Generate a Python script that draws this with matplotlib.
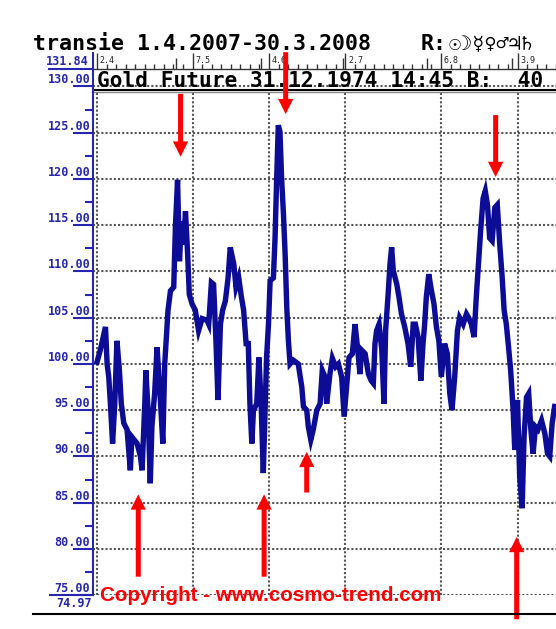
import numpy as np
import matplotlib
matplotlib.use("Agg")
import matplotlib.pyplot as plt
import matplotlib.transforms as mtransforms
from matplotlib.lines import Line2D

# gold future, days counted from 2.4.2007
days = [0, 1.2, 3.1, 3.7, 4.3, 4.9, 5.7, 6.5, 7.3, 8.2, 8.9, 9.8, 11.0, 12.2, 12.8,
        14.7, 15.9, 16.5, 17.5, 17.9, 18.7, 19.5, 20.1, 21.1, 22.0, 23.2, 24.1, 24.8,
        25.3, 26.0, 26.9, 28.1, 28.7, 29.5, 30.2, 30.9, 31.7, 32.4, 33.2, 33.8, 34.8,
        36.0, 37.2, 38.5, 40.3, 40.9, 41.9, 42.7, 43.6, 44.3, 45.2, 46.0, 47.0, 48.0,
        48.8, 50.1, 50.9, 51.9, 52.9, 53.7, 54.6,
        55.4, 56.0, 56.7, 57.3, 58.5, 59.3, 60.1, 60.9, 61.5, 62.1, 62.8, 63.4, 64.6,
        65.2, 65.8, 66.4, 67.0, 67.6, 68.3, 68.9, 69.5, 70.1, 70.7, 71.9, 73.7, 75.0,
        75.6, 76.8, 77.4, 78.3, 79.2, 80.5, 81.7, 82.5, 83.5, 84.1, 85.3, 86.2, 87.4,
        88.4, 89.6, 90.5, 91.5, 92.3, 93.5, 94.5, 95.5, 96.3, 96.9, 98.2, 99.4, 100.4,
        101.2, 101.8, 102.4, 103.3, 104.3, 105.1, 105.7, 106.7, 107.3, 107.9, 108.5,
        109.8, 110.6,
        111.5, 112.7, 113.9, 114.9, 115.8, 116.6, 117.6, 118.6, 119.4, 120.0, 120.6,
        121.5, 122.5, 123.4, 124.3, 125.2, 126.1, 127.3, 128.3, 129.2, 130.0, 131.0,
        132.0, 132.8, 134.1, 135.3, 136.1, 137.1, 138.1, 138.9, 139.6, 140.5, 141.4,
        142.2, 143.0, 143.8, 144.7, 145.7, 146.6, 147.5, 148.4, 149.1, 149.9, 150.6,
        151.5, 152.4, 153.0, 154.0, 154.8, 155.7, 156.4, 157.3, 158.1, 158.9, 159.7,
        160.6, 161.5, 162.8, 164.0, 165.0, 165.8, 166.7, 167.6]
price = [100.2, 101.5, 104.0, 100.0, 98.6, 95.7, 91.4, 95.7, 102.5, 99.3, 95.7, 93.6,
         92.9, 88.5, 92.1, 91.4, 90.0, 88.5, 95.7, 99.3, 95.0, 87.1, 93.2, 96.8, 101.8,
         96.1, 91.4, 100.0, 102.5, 105.8, 107.9, 108.3, 114.7, 119.9, 111.1, 115.4,
         112.9, 116.5, 111.8, 107.5, 106.5, 105.8, 103.6, 104.9, 104.7, 104.3, 108.8,
         108.6, 102.2, 96.1, 104.3, 105.8, 106.8, 109.3, 112.6, 110.8, 108.3, 109.3,
         107.2, 105.8, 102.2,
         102.2, 95.7, 91.4, 95.0, 95.7, 100.7, 95.7, 88.2, 94.3, 100.7, 104.3, 109.0,
         109.3, 113.6, 120.1, 125.8, 125.1, 120.1, 116.1, 111.8, 106.1, 102.5, 100.0,
         100.4, 100.0, 97.5, 95.4, 95.0, 93.2, 91.8, 92.9, 95.0, 95.7, 99.3, 98.6, 95.7,
         98.9, 100.6, 99.7, 100.0, 98.6, 94.3, 97.9, 100.7, 101.1, 104.3, 101.5, 98.9,
         101.5, 101.1, 98.9, 98.2, 97.9, 102.2, 103.6, 104.3, 101.5, 95.7, 103.6, 107.9,
         110.8, 112.6, 110.1, 108.6, 107.2,
         105.4, 104.0, 102.2, 99.7, 104.3, 104.3, 102.9, 98.2, 102.2, 104.3, 107.2,
         109.7, 107.9, 106.5, 104.0, 102.5, 98.6, 102.2, 101.1, 96.8, 95.0, 98.6, 103.6,
         105.0, 104.3, 105.4, 105.0, 104.3, 102.9, 107.2, 110.4, 114.4, 117.9, 118.7,
         117.2, 113.6, 113.3, 116.9, 117.2, 112.9, 109.3, 105.8, 104.3, 102.2, 99.3,
         95.0, 90.7, 96.1, 87.8, 84.4, 92.1, 96.4, 96.8, 92.9, 90.3, 93.2, 92.9, 93.9,
         92.5, 90.3, 90.0, 93.6, 95.4]

# top ruler: first monday of each month, month starts
label_days = [0, 35, 63, 91, 126, 154]
label_text = ["2.4", "7.5", "4.6", "2.7", "6.8", "3.9"]
month_days = [29, 60, 90, 121, 152]
y_ticks = list(range(75, 131, 5))
y_bottom, y_top = 74.97, 131.84

# turning point arrows (x, tail, tip)
arrows_down = [(30.6, 129.2, 122.4), (69.1, 133.7, 127.0), (146.0, 126.9, 120.2)]
arrows_up = [(15.1, 77.0, 85.9), (61.2, 77.0, 85.9), (76.8, 86.1, 90.5), (153.7, 72.4, 81.3)]

blue = "#2626b0"
line_blue = "#0c0c96"
grid_col = "#555555"
mono = ["DejaVu Sans Mono", "DejaVu Sans"]

fig = plt.figure(figsize=(5.56, 6.29), dpi=100)
ax = fig.add_axes([93.3 / 556, 0.0533, 1 - 93.3 / 556, 0.8364])
ax.set_xlim(-1.36, 168.1)
ax.set_ylim(y_bottom, y_top)

# spines
for s in ["bottom", "right"]:
    ax.spines[s].set_visible(False)
ax.spines["left"].set_color(blue)
ax.spines["left"].set_linewidth(1.5)
ax.spines["top"].set_color("#333333")
ax.spines["top"].set_linewidth(1.0)

# y axis ticks (labels sit on top of the long ticks)
ax.set_yticks(y_ticks)
ax.set_yticklabels(["%.2f" % v for v in y_ticks])
ax.set_yticks(np.arange(77.5, 130, 5), minor=True)
ax.tick_params(axis="y", which="major", direction="out", length=14.4, width=1.5,
               color=blue, labelcolor=blue, pad=-12.2, labelsize=8.5)
ax.tick_params(axis="y", which="minor", direction="out", length=5.8, width=1.5, color=blue)
for lbl in ax.get_yticklabels():
    lbl.set_verticalalignment("bottom")
    lbl.set_fontfamily(mono)
    lbl.set_fontweight("bold")

# x axis = ruler on top
ax.xaxis.set_ticks_position("top")
ax.set_xticks(label_days)
ax.set_xticklabels([])
ax.set_xticks(np.arange(0, 169, 3.5), minor=True)
ax.tick_params(axis="x", which="major", direction="out", length=11.8, width=1, color="#333333")
ax.tick_params(axis="x", which="minor", direction="out", length=3.6, width=1, color="#333333")
ax.vlines(month_days, y_top, 133.08, color="#333333", lw=1, clip_on=False)
for d, t in zip(label_days, label_text):
    ax.text(d + 1.0, 132.5, t, fontsize=6, family=mono, color="#222222",
            va="baseline", ha="left", clip_on=False)

# grid
ax.yaxis.grid(True, which="major", linestyle=(0, (1, 1)), color=grid_col, lw=1.5)
ax.vlines(label_days, y_bottom, 129.35, color=grid_col, lw=1.5, linestyles=(0, (1, 1)))

# header row
ax.text(0.0, 129.95, "Gold Future 31.12.1974 14:45 B:  40", family=mono,
        fontweight="bold", fontsize=15.2, va="baseline", ha="left", clip_on=False)
ax.axhline(129.62, color="black", lw=1.5)
ax.axhline(129.35, color="#888888", lw=1.0)

# left axis extras
tr = mtransforms.blended_transform_factory(fig.transFigure, ax.transData)
ax.plot([49 / 556, 93.3 / 556], [y_top, y_top], transform=tr, color=blue, lw=1.5, clip_on=False)
ax.plot([50 / 556, 93.3 / 556], [y_bottom, y_bottom], transform=tr, color=blue, lw=1.5, clip_on=False)
ax.plot([93.3 / 556, 93.3 / 556], [y_top, 133.6], transform=tr, color=blue, lw=1.5, clip_on=False)
ax.text(89 / 556, y_top + 0.1, "%.2f" % y_top, transform=tr, color=blue, fontsize=8.5,
        family=mono, fontweight="bold", ha="right", va="bottom")
ax.text(92 / 556, y_bottom - 0.2, "%.2f" % y_bottom, transform=tr, color=blue, fontsize=8.5,
        family=mono, fontweight="bold", ha="right", va="top")

# price line
ax.plot(days, price, color=line_blue, lw=3.9, solid_joinstyle="miter", zorder=3)

# arrows
style = "simple,head_length=1.1,head_width=1.1,tail_width=0.36"
for x, y0, y1 in arrows_down + arrows_up:
    ax.annotate("", xy=(x, y1), xytext=(x, y0), annotation_clip=False, zorder=5,
                arrowprops=dict(arrowstyle=style, mutation_scale=10, color="#ff0000",
                                lw=0, shrinkA=0, shrinkB=0))

ax.text(1.1, 74.4, "Copyright - www.cosmo-trend.com", color="#ff0000", fontsize=14.9,
        family="Liberation Sans", fontweight="bold", ha="left", va="baseline",
        clip_on=False, zorder=6)

# title
fig.text(33 / 556, 1 - 50 / 629, "transie 1.4.2007-30.3.2008", family=mono,
         fontweight="bold", fontsize=15.6, va="baseline", ha="left")
fig.text(421 / 556, 1 - 50 / 629, "R:", family=mono,
         fontweight="bold", fontsize=15.6, va="baseline", ha="left")
fig.text(449 / 556, 1 - 50 / 629, "☉☽☿♀♂♃♄", family=mono,
         fontsize=14.5, va="baseline", ha="left")

fig.add_artist(Line2D([33 / 556, 1], [1 - 614 / 629] * 2, transform=fig.transFigure,
                      color="black", lw=1.5))

fig.savefig("out.png", dpi=100)
